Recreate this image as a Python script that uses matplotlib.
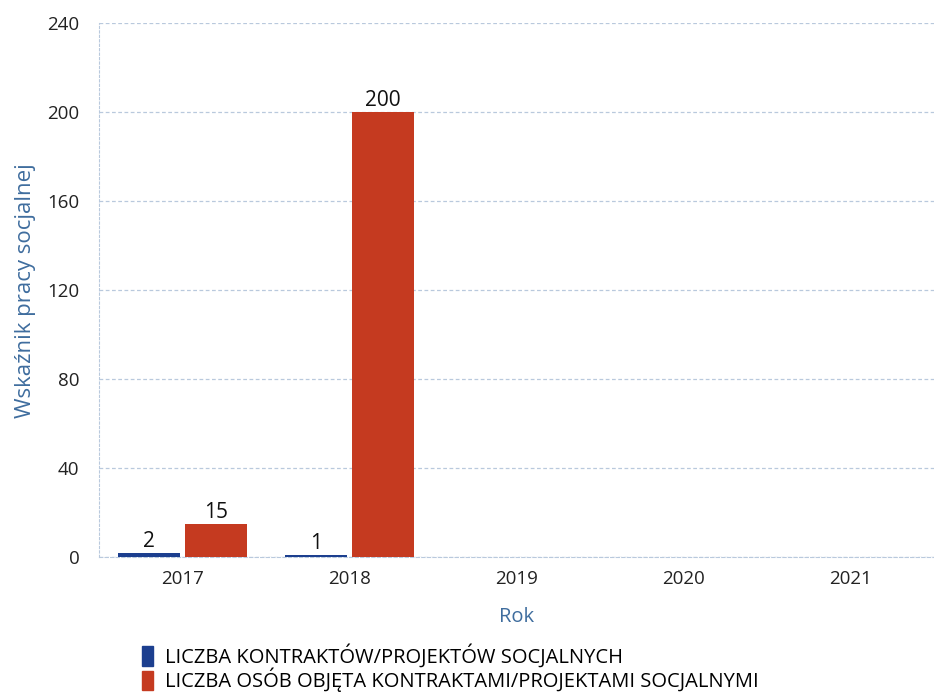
import numpy as np
import matplotlib
matplotlib.use("Agg")
from matplotlib import pyplot as plt
from matplotlib.patches import Patch

# --- data ---
years = ["2017", "2018", "2019", "2020", "2021"]
kontrakty = [2, 1, 0, 0, 0]
osoby = [15, 200, 0, 0, 0]
label_kontrakty = "LICZBA KONTRAKTÓW/PROJEKTÓW SOCJALNYCH"
label_osoby = "LICZBA OSÓB OBJĘTA KONTRAKTAMI/PROJEKTAMI SOCJALNYMI"
y_ticks = [0, 40, 80, 120, 160, 200, 240]

blue = "#1c3f8f"
red = "#c53a20"
axis_blue = "#3f6d9e"
grid_col = "#b9c9dd"

plt.rcParams['font.family'] = ['Open Sans', 'DejaVu Sans']

fig = plt.figure(figsize=(9.34, 7.0), dpi=100)
ax = fig.add_axes([0.106, 0.204, 0.894, 0.763])

x = np.arange(len(years))
w = 0.37
off = 0.2
b1 = ax.bar(x - off, kontrakty, width=w, color=blue, zorder=3)
b2 = ax.bar(x + off, osoby, width=w, color=red, zorder=3)

# value labels only where there is data
for rects, vals in ((b1, kontrakty), (b2, osoby)):
    for r, v in zip(rects, vals):
        if v > 0:
            ax.text(r.get_x() + r.get_width() / 2, v + 0.5, str(v),
                    ha="center", va="bottom", fontsize=15, color="#111111")

ax.set_xlim(-0.5, 4.5)
ax.set_ylim(0, 240)
ax.set_yticks(y_ticks)
ax.set_xticks(x)
ax.set_xticklabels(years)
ax.tick_params(axis="both", length=0, labelsize=13.5, colors="#222222")
ax.tick_params(axis="x", pad=9)
ax.tick_params(axis="y", pad=14)

ax.grid(axis="y", color=grid_col, linestyle=(0, (3, 2)), linewidth=0.9, zorder=0)
for side in ("top", "right"):
    ax.spines[side].set_visible(False)
ax.spines["left"].set_color(grid_col)
ax.spines["left"].set_linestyle((0, (2, 2)))
ax.spines["bottom"].set_color(grid_col)
ax.spines["bottom"].set_linestyle((0, (3, 2)))

ax.set_ylabel("Wskaźnik pracy socjalnej", color=axis_blue, fontsize=16, labelpad=8)
ax.set_xlabel("Rok", color=axis_blue, fontsize=14.5, labelpad=14)

handles = [Patch(color=blue, label=label_kontrakty),
           Patch(color=red, label=label_osoby)]
fig.legend(handles=handles, loc="upper left", bbox_to_anchor=(0.152, 0.08),
           frameon=False, fontsize=14.5, handlelength=0.55, handleheight=1.1,
           handletextpad=0.6, labelspacing=0.0, borderaxespad=0, borderpad=0)

fig.savefig("out.png", dpi=100)
